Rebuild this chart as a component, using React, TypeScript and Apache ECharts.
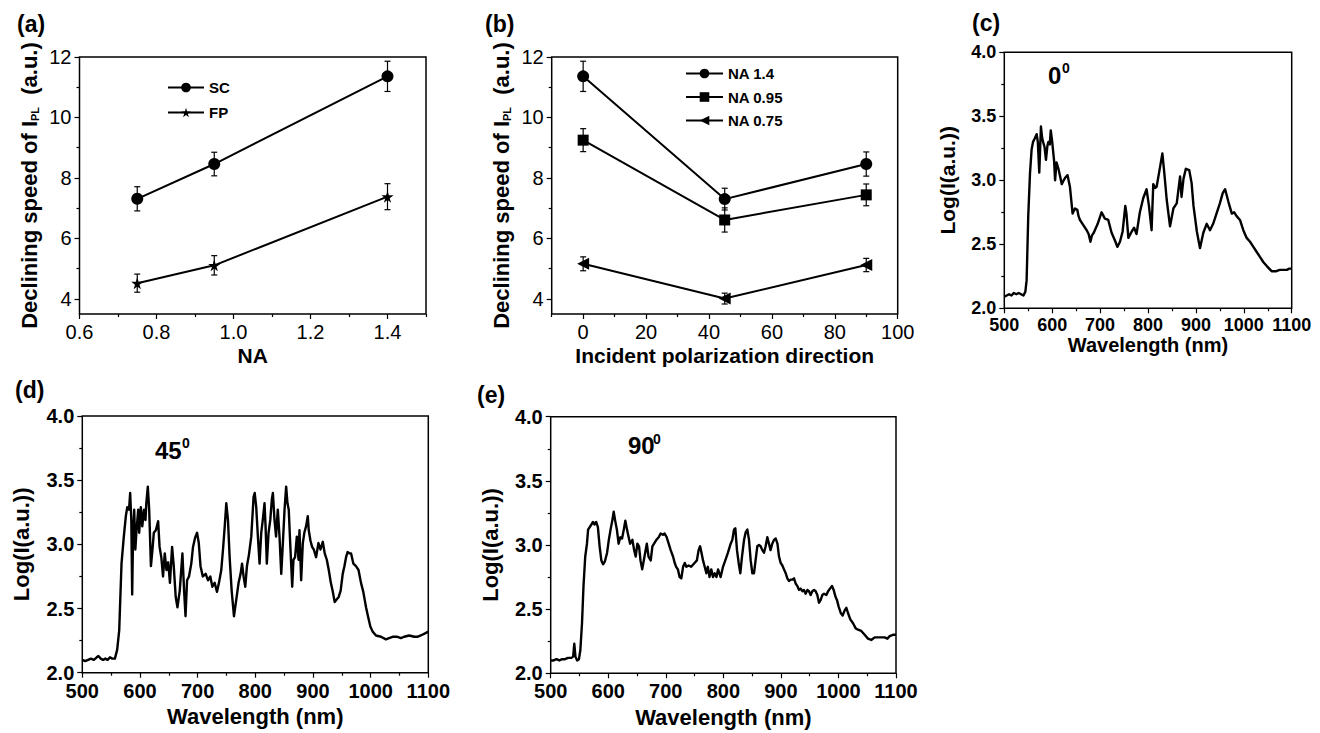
import React, { useEffect, useRef } from "react";
import * as echarts from "echarts";

const FONT = '"Liberation Sans", Arial, Helvetica, sans-serif';

// ---- panel (a): declining speed vs NA ----
const naValues = [0.75, 0.95, 1.4];
const scMean = [7.31, 8.46, 11.36];
const scErr = [0.4, 0.39, 0.5];
const fpMean = [4.52, 5.11, 7.38];
const fpErr = [0.3, 0.32, 0.43];

// ---- panel (b): declining speed vs polarization ----
const polAngles = [0, 45, 90];
const na14Mean = [11.36, 7.3, 8.46];
const na14Err = [0.5, 0.36, 0.4];
const na095Mean = [9.25, 6.61, 7.44];
const na095Err = [0.38, 0.4, 0.36];
const na075Mean = [5.16, 4.01, 5.12];
const na075Err = [0.23, 0.18, 0.22];

// ---- tick labels ----
const naTicks = [0.6, 0.8, 1.0, 1.2, 1.4];
const naMinor = [0.7, 0.9, 1.1, 1.3, 1.5];
const speedTicks = [4, 6, 8, 10, 12];
const speedMinor = [5, 7, 9, 11];
const polTicks = [0, 20, 40, 60, 80, 100];
const polMinor = [-10, 10, 30, 50, 70, 90];
const wlTicks = [500, 600, 700, 800, 900, 1000, 1100];
const wlMinor = [550, 650, 750, 850, 950, 1050];
const logTicks = [2.0, 2.5, 3.0, 3.5, 4.0];
const logMinor = [2.25, 2.75, 3.25, 3.75];

// ---- spectra [wavelength nm, log intensity] ----
const spectrum0: number[][] = [
  [500, 2.09], [505, 2.1], [510, 2.11], [515, 2.1], [520, 2.12], [525, 2.11], [530, 2.12], [535, 2.11], [540, 2.1],
  [544, 2.13], [546.6, 2.22], [550, 2.72], [553.6, 3.05], [557, 3.24], [560, 3.3], [564, 3.33], [567.5, 3.36],
  [570, 3.3], [573, 3.06], [576.5, 3.42], [579, 3.33], [581, 3.3], [584, 3.26], [587, 3.16], [590, 3.27], [592, 3.3],
  [595, 3.28], [597, 3.39], [600, 3.3], [604, 3.15], [606, 3.0], [609, 3.14], [613, 3.09], [616, 3.04], [620, 2.97],
  [624, 3.0], [627, 3.02], [632, 3.04], [637, 2.95], [642.6, 2.74], [645, 2.76], [647.5, 2.78], [652.4, 2.77],
  [655, 2.72], [658, 2.69], [665, 2.65], [672, 2.61], [676, 2.58], [679.8, 2.52], [683, 2.57], [686.8, 2.59],
  [695, 2.66], [703, 2.75], [706, 2.73], [710, 2.7], [717, 2.69], [724, 2.59], [731, 2.53], [736, 2.48],
  [741.5, 2.52], [747, 2.6], [752.6, 2.8], [755, 2.74], [759, 2.55], [766, 2.6], [771, 2.63], [776, 2.58],
  [783, 2.75], [790, 2.86], [797, 2.93], [802, 2.8], [807.5, 2.61], [811, 2.97], [815, 2.94], [818, 2.95],
  [823.6, 3.07], [830, 3.21], [834, 3.06], [839, 2.85], [846, 2.64], [853, 2.78], [860, 2.82], [867, 3.03],
  [870, 2.87], [874, 3.01], [879, 3.09], [886, 3.08], [891, 2.98], [895, 2.8], [902, 2.6], [908.5, 2.47],
  [915.5, 2.59], [922.5, 2.66], [929.4, 2.61], [936, 2.66], [943, 2.74], [950, 2.82], [956, 2.9], [961, 2.93],
  [968, 2.83], [975, 2.74], [980, 2.75], [985, 2.72], [992, 2.69], [999, 2.61], [1006, 2.55], [1013, 2.52],
  [1020, 2.48], [1027, 2.44], [1034, 2.4], [1041, 2.36], [1048, 2.33], [1053, 2.31], [1058, 2.29], [1063, 2.29],
  [1068, 2.29], [1075, 2.3], [1082, 2.3], [1090, 2.3], [1095, 2.31], [1100, 2.31],
];

const spectrum45: number[][] = [
  [500, 2.1], [505, 2.09], [510, 2.1], [515, 2.11], [520, 2.1], [525, 2.12], [528, 2.13], [532, 2.11], [536, 2.1],
  [540, 2.11], [544, 2.1], [548, 2.12], [552, 2.11], [556.5, 2.11], [560.5, 2.18], [564, 2.33], [568, 2.85],
  [572, 3.06], [575.5, 3.22], [578, 3.29], [581, 3.27], [583, 3.4], [585, 3.19], [586.5, 2.61], [588, 3.06],
  [590, 3.27], [592, 2.96], [594, 3.11], [597, 3.27], [598.6, 3.09], [601.5, 3.29], [604, 3.14], [607, 3.27],
  [609.6, 3.19], [611, 3.32], [613.6, 3.45], [616, 3.27], [619, 2.83], [621.7, 2.96], [624, 3.09], [627.5, 3.11],
  [631.5, 3.18], [634, 2.98], [637, 2.9], [640, 2.75], [643, 2.93], [646, 2.8], [649, 2.86], [652, 2.7],
  [655.7, 2.98], [658.6, 2.83], [662, 2.59], [665, 2.51], [669, 2.64], [673.6, 2.93], [676.5, 2.64], [679, 2.44],
  [681.7, 2.72], [685, 2.75], [689, 2.85], [692, 2.98], [695.5, 3.05], [699, 3.09], [702, 3.01], [705, 2.83],
  [709, 2.75], [714, 2.77], [718, 2.72], [722, 2.75], [725.5, 2.67], [729.5, 2.7], [733.6, 2.63], [737, 2.7],
  [741, 2.8], [744, 2.96], [747, 3.14], [749.7, 3.32], [752.6, 3.19], [755.5, 2.9], [759, 2.64], [763, 2.44],
  [767, 2.57], [771, 2.7], [774.5, 2.77], [777, 2.85], [779.7, 2.75], [782.6, 2.67], [785.5, 2.83], [789, 2.92],
  [793, 3.06], [797, 3.37], [799, 3.4], [801.6, 3.29], [804.5, 3.06], [807.4, 2.85], [810.3, 3.09], [813, 3.19],
  [816, 3.32], [817.8, 3.14], [820, 2.85], [823, 3.09], [826, 3.19], [828.7, 3.35], [830.5, 3.4], [833.3, 3.19],
  [836, 3.06], [839, 3.27], [842, 3.06], [845, 2.77], [847.8, 3.01], [850.7, 3.27], [853.5, 3.45], [855.8, 3.32],
  [858, 3.27], [860.5, 3.01], [864, 2.67], [866.2, 2.88], [869, 2.9], [872, 3.06], [875, 2.88], [876.6, 3.11],
  [879.5, 2.72], [882.4, 3.01], [885, 3.09], [888, 3.14], [891, 3.22], [892.7, 3.11], [895.6, 3.03], [898.5, 2.98],
  [901.4, 2.96], [905.4, 2.9], [909.5, 3.01], [913, 2.96], [917, 3.02], [920.4, 2.93], [924, 2.88], [927.4, 2.8],
  [931, 2.7], [934, 2.64], [937.7, 2.55], [941, 2.57], [944.6, 2.59], [948, 2.64], [951.6, 2.77], [954.5, 2.83],
  [957.4, 2.9], [960, 2.94], [963, 2.93], [966, 2.93], [970, 2.85], [974.6, 2.83], [979, 2.8], [983.3, 2.7],
  [987.3, 2.63], [992, 2.51], [995.4, 2.44], [999.5, 2.36], [1003.5, 2.32], [1009.3, 2.29], [1018, 2.28],
  [1026.5, 2.26], [1032, 2.27], [1038, 2.28], [1046.7, 2.28], [1052.5, 2.27], [1058, 2.28], [1067, 2.29],
  [1075.6, 2.28], [1081, 2.28], [1087, 2.29], [1096, 2.31], [1100, 2.32],
];

const spectrum90: number[][] = [
  [500, 2.1], [505, 2.1], [510, 2.11], [515, 2.1], [520, 2.11], [525, 2.11], [530, 2.12], [536, 2.12], [539, 2.13],
  [541, 2.23], [543, 2.13], [546, 2.1], [549, 2.11], [551.5, 2.18], [554.4, 2.39], [557, 2.68], [560, 2.91],
  [563, 3.01], [565, 3.12], [567.8, 3.14], [570.7, 3.16], [573.5, 3.18], [576, 3.16], [579, 3.18], [582, 3.14],
  [585, 2.99], [588, 2.88], [591, 2.85], [594, 2.87], [598, 2.94], [601, 3.04], [604, 3.12], [607, 3.19],
  [609.5, 3.26], [612, 3.19], [615, 3.12], [618, 3.01], [621, 3.06], [624, 3.05], [627, 3.12], [629.7, 3.19],
  [632.6, 3.12], [635.5, 3.06], [638, 3.01], [642, 3.04], [645, 2.96], [647.7, 2.91], [650.6, 3.01], [653.5, 2.99],
  [656, 2.88], [659, 2.81], [663, 2.91], [667, 3.01], [670, 2.91], [673.8, 2.88], [676.7, 2.99], [679.6, 3.01],
  [683.6, 3.04], [687.7, 3.06], [691, 3.09], [695, 3.08], [698, 3.09], [701.6, 3.06], [705, 3.01], [708.5, 2.96],
  [712.6, 2.91], [715.5, 2.86], [718, 2.83], [721, 2.81], [724, 2.75], [727, 2.74], [730, 2.83], [733, 2.86],
  [735.7, 2.83], [739.8, 2.84], [744, 2.83], [750, 2.86], [754, 2.88], [757, 2.96], [759.6, 2.99], [762, 2.94],
  [764.7, 2.88], [767.6, 2.83], [770.5, 2.78], [773, 2.83], [776, 2.75], [779, 2.81], [782, 2.75], [785, 2.78],
  [788, 2.75], [790.8, 2.81], [795.3, 2.75], [799.4, 2.83], [803.4, 2.88], [808, 2.94], [812.7, 3.01],
  [815.6, 3.04], [818.5, 3.12], [820.8, 3.13], [823.7, 2.96], [826.6, 2.86], [829.5, 2.78], [832.4, 2.91],
  [836, 3.04], [838.8, 3.1], [841.7, 3.12], [844.6, 3.04], [847.5, 2.88], [850.4, 2.78], [853.3, 2.78], [856, 2.88],
  [859, 2.99], [862, 3.0], [864.8, 2.99], [867.7, 2.96], [870.6, 2.94], [873.5, 2.99], [876.4, 3.06], [879.3, 3.01],
  [882, 2.96], [885, 3.01], [888, 3.04], [891, 3.05], [894, 3.01], [896.7, 2.91], [899.6, 2.86], [902.5, 2.84],
  [905.4, 2.81], [908.3, 2.78], [911.2, 2.74], [914, 2.72], [917, 2.73], [920, 2.73], [922.8, 2.74], [925.6, 2.7],
  [928.6, 2.68], [931.4, 2.65], [934.3, 2.66], [937.2, 2.64], [940, 2.65], [943, 2.62], [946, 2.65], [948.8, 2.64],
  [951.7, 2.61], [954.6, 2.64], [957.5, 2.65], [960.4, 2.64], [963.3, 2.61], [966.2, 2.55], [969, 2.57], [972, 2.61],
  [975, 2.62], [979, 2.61], [982, 2.64], [985.3, 2.66], [988.8, 2.68], [991.7, 2.65], [994.6, 2.6], [997.5, 2.57],
  [1000.4, 2.52], [1004, 2.47], [1007.3, 2.45], [1010.8, 2.49], [1013.7, 2.51], [1016.6, 2.47], [1020.6, 2.42],
  [1025.3, 2.39], [1030, 2.35], [1034, 2.34], [1039.7, 2.33], [1045.5, 2.3], [1051.3, 2.27], [1057, 2.26],
  [1063, 2.28], [1068.7, 2.28], [1074.5, 2.28], [1080.3, 2.28], [1085, 2.27], [1089, 2.29], [1094.8, 2.3],
  [1100, 2.3],
];

const STAR = "path://M50,0 L61,35 L98,35 L68,57 L79,91 L50,70 L21,91 L32,57 L2,35 L39,35 Z";

type AxisCfg = {
  min: number;
  max: number;
  ticks: number[];
  minor: number[];
  fmt?: (v: number) => string;
  name: string;
  nameGap: number;
  nameSize: number;
  labelSize: number;
  labelBold: boolean;
  rich?: any;
};

function makeAxes(gi: number, c: AxisCfg, dim: "x" | "y") {
  const major: any = {
    type: "value",
    gridIndex: gi,
    min: c.min,
    max: c.max,
    position: dim === "x" ? "bottom" : "left",
    axisLine: { show: false, onZero: false },
    axisTick: { show: true, length: 5, customValues: c.ticks, lineStyle: { color: "#000", width: 1.2 } },
    axisLabel: {
      customValues: c.ticks,
      formatter: c.fmt || ((v: number) => String(v)),
      color: "#000",
      fontSize: c.labelSize,
      fontWeight: c.labelBold ? "bold" : "normal",
      fontFamily: FONT,
      margin: 8,
    },
    splitLine: { show: false },
    name: c.name,
    nameLocation: "middle",
    nameGap: c.nameGap,
    nameTextStyle: {
      color: "#000",
      fontSize: c.nameSize,
      fontWeight: "bold",
      fontFamily: FONT,
      rich: c.rich,
    },
  };
  const minor: any = {
    type: "value",
    gridIndex: gi,
    min: c.min,
    max: c.max,
    position: dim === "x" ? "bottom" : "left",
    axisLine: { show: false, onZero: false },
    axisTick: { show: true, length: 3, customValues: c.minor, lineStyle: { color: "#000", width: 1.2 } },
    axisLabel: { show: false },
    splitLine: { show: false },
  };
  return [major, minor];
}

function errSeries(name: string, ax: number, xs: number[], mean: number[], err: number[]) {
  return {
    type: "custom",
    name,
    xAxisIndex: ax,
    yAxisIndex: ax,
    silent: true,
    z: 2,
    data: xs.map((x, i) => [x, mean[i] - err[i], mean[i] + err[i]]),
    encode: { x: 0, y: [1, 2] },
    renderItem: (_p: any, api: any) => {
      const x = api.value(0);
      const lo = api.coord([x, api.value(1)]);
      const hi = api.coord([x, api.value(2)]);
      const w = 3;
      const st = { stroke: "#000", lineWidth: 1.2 };
      return {
        type: "group",
        children: [
          { type: "line", shape: { x1: lo[0], y1: lo[1], x2: hi[0], y2: hi[1] }, style: st },
          { type: "line", shape: { x1: lo[0] - w, y1: lo[1], x2: lo[0] + w, y2: lo[1] }, style: st },
          { type: "line", shape: { x1: hi[0] - w, y1: hi[1], x2: hi[0] + w, y2: hi[1] }, style: st },
        ],
      };
    },
  };
}

function lineSeries(name: string, ax: number, xs: number[], ys: number[], symbol: string, size: number, rotate = 0) {
  return {
    type: "line",
    name,
    xAxisIndex: ax,
    yAxisIndex: ax,
    data: xs.map((x, i) => [x, ys[i]]),
    symbol,
    symbolSize: size,
    symbolRotate: rotate,
    showSymbol: true,
    lineStyle: { color: "#000", width: 2 },
    itemStyle: { color: "#000" },
    z: 3,
  };
}

function specSeries(ax: number, data: number[][]) {
  return {
    type: "line",
    xAxisIndex: ax,
    yAxisIndex: ax,
    data,
    symbol: "none",
    lineStyle: { color: "#000", width: 2.4, join: "round" },
    z: 3,
  };
}

const fmt1 = (v: number) => v.toFixed(1);
const subRich = { sub: { fontSize: 11, fontWeight: "bold", fontFamily: FONT, verticalAlign: "bottom", color: "#000" } };

function txt(x: number, y: number, text: string, size: number) {
  return {
    type: "text",
    x,
    y,
    style: {
      text,
      fill: "#000",
      font: `bold ${size}px ${FONT}`,
      textAlign: "left",
      textVerticalAlign: "middle",
    },
  };
}

export default function App() {
  const ref = useRef<HTMLDivElement>(null);
  useEffect(() => {
    if (!ref.current) return;
    const chart = echarts.init(ref.current, undefined, { renderer: "svg" });

    const grids = [
      { left: 79.5, top: 57, width: 346.5, height: 257 },
      { left: 551.7, top: 57, width: 346, height: 257 },
      { left: 1004.3, top: 52.3, width: 287.4, height: 256 },
      { left: 82.3, top: 416, width: 346, height: 256.7 },
      { left: 550.7, top: 416.7, width: 345.3, height: 256.6 },
    ].map((g) => ({ ...g, show: true, borderColor: "#000", borderWidth: 1.5, backgroundColor: "transparent" }));

    const yTitle = "Declining speed of I{sub|PL}  (a.u.)";
    const xCfgs: AxisCfg[] = [
      { min: 0.6, max: 1.5, ticks: naTicks, minor: naMinor, fmt: fmt1, name: "NA", nameGap: 31, nameSize: 21, labelSize: 20, labelBold: false },
      { min: -10, max: 100, ticks: polTicks, minor: polMinor, name: "Incident polarization direction", nameGap: 31, nameSize: 21, labelSize: 20, labelBold: false },
      { min: 500, max: 1100, ticks: wlTicks, minor: wlMinor, name: "Wavelength (nm)", nameGap: 26, nameSize: 20, labelSize: 18, labelBold: true },
      { min: 500, max: 1100, ticks: wlTicks, minor: wlMinor, name: "Wavelength (nm)", nameGap: 33, nameSize: 22, labelSize: 20, labelBold: true },
      { min: 500, max: 1100, ticks: wlTicks, minor: wlMinor, name: "Wavelength (nm)", nameGap: 33, nameSize: 22, labelSize: 20, labelBold: true },
    ];
    const yCfgs: AxisCfg[] = [
      { min: 3.5, max: 12, ticks: speedTicks, minor: speedMinor, name: yTitle, nameGap: 39, nameSize: 22, labelSize: 20, labelBold: false, rich: subRich },
      { min: 3.5, max: 12, ticks: speedTicks, minor: speedMinor, name: yTitle, nameGap: 39, nameSize: 22, labelSize: 20, labelBold: false, rich: subRich },
      { min: 2, max: 4, ticks: logTicks, minor: logMinor, fmt: fmt1, name: "Log(I(a.u.))", nameGap: 46, nameSize: 21, labelSize: 18, labelBold: true },
      { min: 2, max: 4, ticks: logTicks, minor: logMinor, fmt: fmt1, name: "Log(I(a.u.))", nameGap: 50, nameSize: 22, labelSize: 20, labelBold: true },
      { min: 2, max: 4, ticks: logTicks, minor: logMinor, fmt: fmt1, name: "Log(I(a.u.))", nameGap: 49, nameSize: 22, labelSize: 20, labelBold: true },
    ];
    const xAxis: any[] = [];
    const yAxis: any[] = [];
    xCfgs.forEach((c, i) => xAxis.push(...makeAxes(i, c, "x")));
    yCfgs.forEach((c, i) => yAxis.push(...makeAxes(i, c, "y")));

    const series: any[] = [
      errSeries("errSC", 0, naValues, scMean, scErr),
      errSeries("errFP", 0, naValues, fpMean, fpErr),
      lineSeries("SC", 0, naValues, scMean, "circle", 12),
      lineSeries("FP", 0, naValues, fpMean, STAR, 12),
      errSeries("err14", 2, polAngles, na14Mean, na14Err),
      errSeries("err095", 2, polAngles, na095Mean, na095Err),
      errSeries("err075", 2, polAngles, na075Mean, na075Err),
      lineSeries("NA 1.4", 2, polAngles, na14Mean, "circle", 12),
      lineSeries("NA 0.95", 2, polAngles, na095Mean, "rect", 11),
      lineSeries("NA 0.75", 2, polAngles, na075Mean, "triangle", 12, 90),
      specSeries(4, spectrum0),
      specSeries(6, spectrum45),
      specSeries(8, spectrum90),
    ];

    const legendText = { color: "#000", fontWeight: "bold", fontFamily: FONT };
    chart.setOption({
      animation: false,
      grid: grids,
      xAxis,
      yAxis,
      series,
      legend: [
        {
          data: ["SC", "FP"],
          left: 167,
          top: 80,
          orient: "vertical",
          padding: 0,
          itemWidth: 36,
          itemHeight: 12,
          itemGap: 10,
          selectedMode: false,
          textStyle: { ...legendText, fontSize: 15 },
        },
        {
          data: ["NA 1.4", "NA 0.95", "NA 0.75"],
          left: 685,
          top: 66,
          orient: "vertical",
          padding: 0,
          itemWidth: 37,
          itemHeight: 12,
          itemGap: 8.5,
          selectedMode: false,
          textStyle: { ...legendText, fontSize: 15 },
        },
      ],
      graphic: [
        txt(17, 24, "(a)", 23),
        txt(485, 24, "(b)", 23),
        txt(972, 23, "(c)", 23),
        txt(15, 390, "(d)", 23),
        txt(477, 395, "(e)", 23),
        txt(1048, 75, "0", 24),
        txt(1062, 68, "0", 14),
        txt(155, 450, "45", 24),
        txt(182, 443, "0", 14),
        txt(628, 445, "90", 24),
        txt(653, 439, "0", 14),
      ],
    });
    return () => chart.dispose();
  }, []);
  return (
    <div
      ref={ref}
      style={{ position: "absolute", left: 0, top: 0, width: 1320, height: 733, background: "#fff" }}
    />
  );
}
